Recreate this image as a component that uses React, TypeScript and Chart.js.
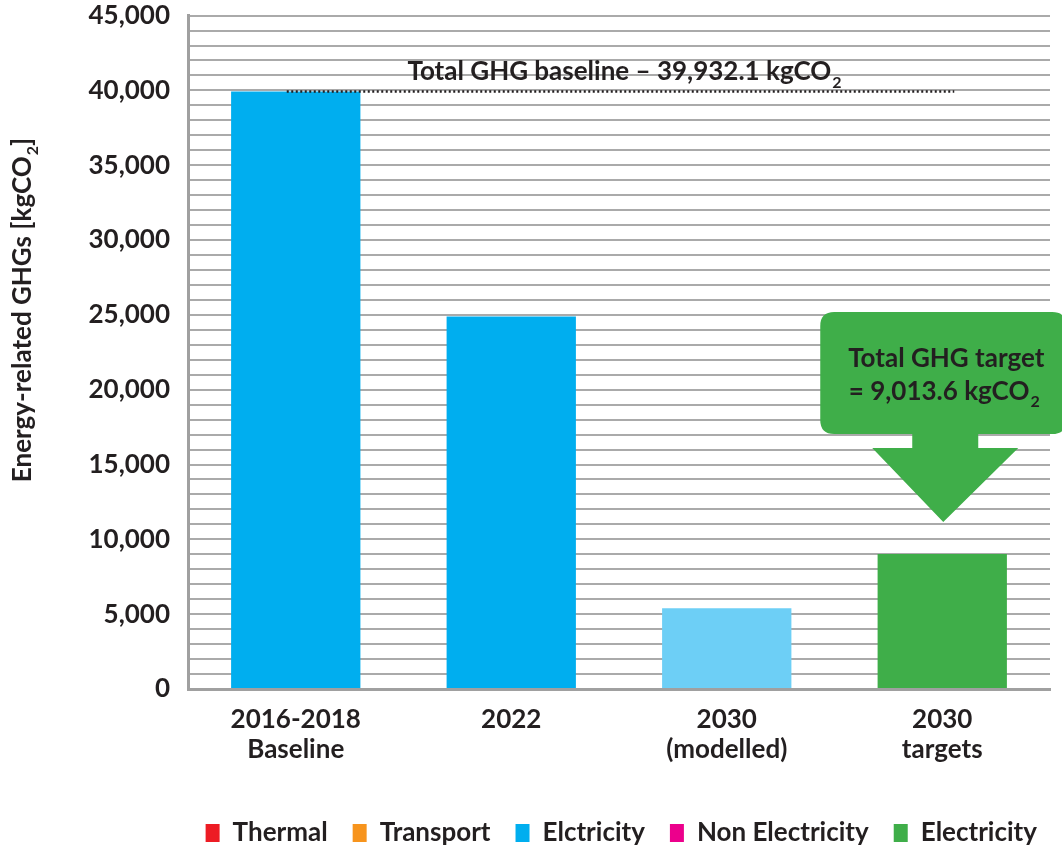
import React, { useEffect, useRef } from "react";
import { Chart, registerables } from "chart.js";

Chart.register(...registerables);

const categories: string[][] = [["2016-2018", "Baseline"], ["2022"], ["2030", "(modelled)"], ["2030", "targets"]];
const thermal: (number | null)[] = [null, null, null, null];
const transport: (number | null)[] = [null, null, null, null];
const elctricity: (number | null)[] = [39932.1, 24900, null, null];
const modelled: (number | null)[] = [null, null, 5400, null];
const nonElectricity: (number | null)[] = [null, null, null, null];
const electricity: (number | null)[] = [null, null, null, 9013.6];
const baselineValue = 39932.1;
const targetValue = 9013.6;
const baselineLabel = "Total GHG baseline \u2013 39,932.1 kgCO";
const targetLine1 = "Total GHG target";
const targetLine2 = "= 9,013.6 kgCO";
const yTitle = "Energy-related GHGs [kgCO";

const TEXT = "#231F20";
const FONT = "Lato, 'Open Sans', sans-serif";
const SHIFT = 18;

function drawWithSub(ctx: CanvasRenderingContext2D, main: string, sub: string, tail: string, x: number, y: number, size: number) {
  ctx.font = `bold ${size}px ${FONT}`;
  const w1 = ctx.measureText(main).width;
  ctx.font = `bold ${Math.round(size * 0.6)}px ${FONT}`;
  const w2 = ctx.measureText(sub).width;
  ctx.font = `bold ${size}px ${FONT}`;
  const w3 = ctx.measureText(tail).width;
  const total = w1 + w2 + 1 + w3;
  let sx = x - total / 2;
  ctx.textAlign = "left";
  ctx.textBaseline = "alphabetic";
  ctx.fillText(main, sx, y);
  sx += w1 + 1;
  ctx.font = `bold ${Math.round(size * 0.6)}px ${FONT}`;
  ctx.fillText(sub, sx, y + size * 0.28);
  sx += w2;
  ctx.font = `bold ${size}px ${FONT}`;
  if (tail) ctx.fillText(tail, sx, y);
}

const annotations = {
  id: "annotations",
  afterDatasetsDraw(chart: any) {
    const ctx: CanvasRenderingContext2D = chart.ctx;
    const xs = chart.scales.x;
    const ys = chart.scales.y;
    ctx.save();
    // baseline dotted line
    const yb = ys.getPixelForValue(baselineValue);
    const x0 = xs.getPixelForValue(0) - 9;
    const x1 = xs.getPixelForValue(3) + 12;
    ctx.strokeStyle = TEXT;
    ctx.lineWidth = 2.5;
    ctx.setLineDash([2, 2.5]);
    ctx.beginPath();
    ctx.moveTo(x0, yb);
    ctx.lineTo(x1, yb);
    ctx.stroke();
    ctx.setLineDash([]);
    ctx.fillStyle = TEXT;
    drawWithSub(ctx, baselineLabel, "2", "", (x0 + x1) / 2 + 4, yb - 11, 26);

    // callout
    const cx = xs.getPixelForValue(3);
    const top = ys.getPixelForValue(targetValue);
    const green = "#3FAE49";
    ctx.fillStyle = green;
    const bx0 = cx - 122, bx1 = cx + 124, by0 = top - 242, by1 = top - 120;
    const r = 14;
    ctx.beginPath();
    ctx.moveTo(bx0 + r, by0);
    ctx.lineTo(bx1 - r, by0);
    ctx.quadraticCurveTo(bx1, by0, bx1, by0 + r);
    ctx.lineTo(bx1, by1 - r);
    ctx.quadraticCurveTo(bx1, by1, bx1 - r, by1);
    ctx.lineTo(bx0 + r, by1);
    ctx.quadraticCurveTo(bx0, by1, bx0, by1 - r);
    ctx.lineTo(bx0, by0 + r);
    ctx.quadraticCurveTo(bx0, by0, bx0 + r, by0);
    ctx.closePath();
    ctx.fill();
    // arrow
    ctx.beginPath();
    ctx.moveTo(cx - 30, by1 - 1);
    ctx.lineTo(cx + 36, by1 - 1);
    ctx.lineTo(cx + 36, top - 106);
    ctx.lineTo(cx + 76, top - 106);
    ctx.lineTo(cx + 1, top - 32);
    ctx.lineTo(cx - 70, top - 106);
    ctx.lineTo(cx - 30, top - 106);
    ctx.closePath();
    ctx.fill();
    ctx.fillStyle = TEXT;
    ctx.font = `bold 26px ${FONT}`;
    ctx.textAlign = "center";
    ctx.textBaseline = "alphabetic";
    ctx.fillText(targetLine1, cx + 4, by0 + 55);
    drawWithSub(ctx, targetLine2, "2", "", cx + 2, by0 + 88, 26);

    // y axis title
    ctx.save();
    ctx.translate(31, 310 + SHIFT);
    ctx.rotate(-Math.PI / 2);
    drawWithSub(ctx, yTitle, "2", "]", 0, 0, 26);
    ctx.restore();
    ctx.restore();
  },
};

export default function App() {
  const ref = useRef<HTMLCanvasElement | null>(null);
  useEffect(() => {
    document.body.style.margin = "0";
    document.body.style.overflow = "hidden";
    if (!ref.current) return;
    Chart.defaults.font.family = FONT;
    const bar = { barPercentage: 0.6, categoryPercentage: 1, borderWidth: 0 };
    const chart = new Chart(ref.current, {
      type: "bar",
      data: {
        labels: categories,
        datasets: [
          { label: "Thermal", data: thermal, backgroundColor: "#ED1C24", ...bar },
          { label: "Transport", data: transport, backgroundColor: "#F7941D", ...bar },
          { label: "Elctricity", data: elctricity, backgroundColor: "#00AEEF", ...bar },
          { label: "modelled", data: modelled, backgroundColor: "#6DCFF6", ...bar },
          { label: "Non Electricity", data: nonElectricity, backgroundColor: "#EC008C", ...bar },
          { label: "Electricity", data: electricity, backgroundColor: "#3FAE49", ...bar },
        ] as any,
      },
      options: {
        animation: false,
        responsive: false,
        layout: { padding: { left: 0, right: 0, top: 0, bottom: -11 } },
        plugins: {
          tooltip: { enabled: false },
          legend: {
            position: "bottom",
            align: "end",
            labels: {
              filter: (item: any) => item.text !== "modelled",
              color: TEXT,
              font: { size: 26, weight: "bold" },
              boxWidth: 14,
              boxHeight: 18,
              padding: 25,
            },
          },
        },
        scales: {
          x: {
            stacked: true,
            grid: { display: false, drawTicks: false },
            border: { color: "#A0A0A0", width: 3 },
            ticks: { color: TEXT, font: { size: 26, weight: "bold", lineHeight: 1.18 }, padding: 15, maxRotation: 0 },
            afterFit: (s: any) => { s.height = 106; },
          },
          y: {
            stacked: true,
            min: 0,
            max: 45000,
            grid: { color: "#AAAAAA", lineWidth: 2, drawTicks: false },
            border: { color: "#A0A0A0", width: 3 },
            ticks: {
              stepSize: 1000,
              autoSkip: false,
              color: TEXT,
              font: { size: 26, weight: "bold" },
              padding: 18,
              callback: (v: any) => (Number(v) % 5000 === 0 ? Number(v).toLocaleString("en-US") : ""),
            },
            afterFit: (s: any) => { s.width = 188; },
          },
          yRight: {
            position: "right",
            display: true,
            grid: { display: false, drawTicks: false },
            border: { display: false },
            ticks: { display: false },
            afterFit: (s: any) => { s.width = 12; },
          },
        },
      } as any,
      plugins: [annotations],
    });
    return () => chart.destroy();
  }, []);
  return (
    <div style={{ width: 1062, height: 845, position: "relative", overflow: "hidden" }}>
      <canvas ref={ref} width={1062} height={845 + SHIFT} style={{ position: "absolute", left: 0, top: -SHIFT }} />
    </div>
  );
}
